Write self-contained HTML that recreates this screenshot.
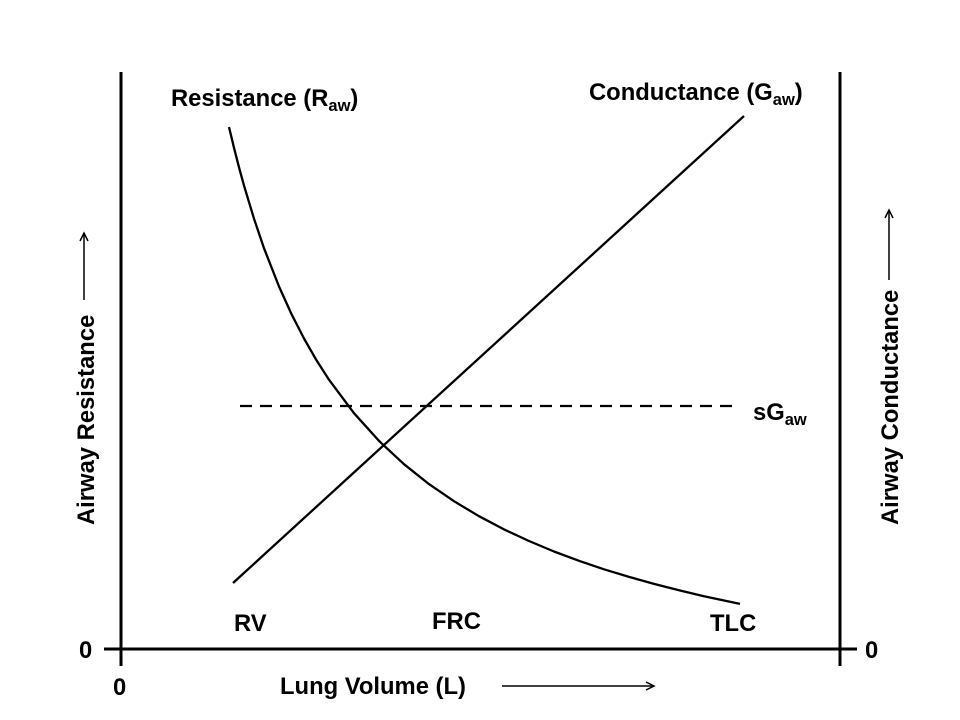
<!DOCTYPE html>
<html><head><meta charset="utf-8"><style>
html,body{margin:0;padding:0;background:#fff;}
svg{display:block;font-family:"Liberation Sans",Arial,sans-serif;font-weight:bold;}
</style></head><body>
<svg width="960" height="720" viewBox="0 0 960 720" xmlns="http://www.w3.org/2000/svg">
<g stroke="#000" stroke-width="3" fill="none">
<line x1="121" y1="72" x2="121" y2="666"/>
<line x1="840" y1="72" x2="840" y2="666"/>
<line x1="104" y1="649" x2="857" y2="649"/>
</g>
<g stroke="#000" stroke-width="2.3" fill="none">
<polyline stroke-linejoin="round" points="229,127 234,147.8 239,167.3 244,185.6 254,218.7 264,248.2 279,286.5 291.5,314.1 304,338.5 316.5,360.3 329,379.7 354,413.2 379,440.9 404,464.2 429,484.1 454,501.2 479,516.2 504,529.4 529,541 554,551.5 579,560.8 604,569.3 629,576.9 654,583.9 679,590.3 704,596.2 740,603.9"/>
<line x1="233" y1="583" x2="744" y2="116"/>
<line x1="240" y1="406" x2="736" y2="406" stroke-dasharray="12,8"/>
<line x1="502" y1="686" x2="654" y2="686" stroke-width="1.5"/>
<polyline points="646,682 654,686 646,690" stroke-width="1.5"/>
<line x1="84" y1="300" x2="84" y2="233" stroke-width="1.5"/>
<polyline points="80,241 84,233 88,241" stroke-width="1.5"/>
<line x1="889" y1="280" x2="889" y2="210" stroke-width="1.5"/>
<polyline points="885,218 889,210 893,218" stroke-width="1.5"/>
</g>
<g font-size="23.8" fill="#000">
<text x="171" y="106">Resistance (R<tspan font-size="16.5" dy="5">aw</tspan><tspan dy="-5">)</tspan></text>
<text x="589" y="100">Conductance (G<tspan font-size="16.5" dy="5">aw</tspan><tspan dy="-5">)</tspan></text>
<text x="753" y="420">sG<tspan font-size="16.5" dy="5">aw</tspan></text>
<text x="234" y="631">RV</text>
<text x="432" y="629">FRC</text>
<text x="710" y="631">TLC</text>
<text x="79" y="658">0</text>
<text x="113" y="695">0</text>
<text x="865" y="658">0</text>
<text x="280" y="694">Lung Volume (L)</text>
<text transform="translate(94,525) rotate(-90)">Airway Resistance</text>
<text transform="translate(898,525) rotate(-90)">Airway Conductance</text>
</g>
</svg>
</body></html>
